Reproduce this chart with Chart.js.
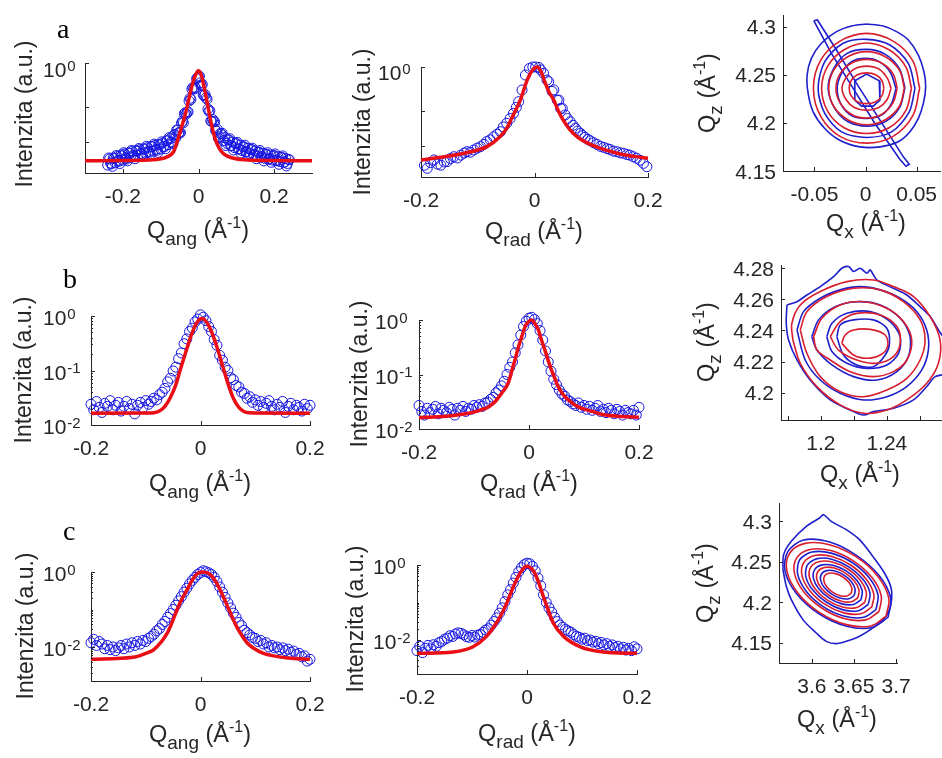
<!DOCTYPE html>
<html>
<head>
<meta charset="utf-8">
<script src="https://cdn.jsdelivr.net/npm/chart.js@4.4.1/dist/chart.umd.min.js"></script>
<style>
  html, body { margin: 0; padding: 0; background: #fff; overflow: hidden; width: 942px; height: 758px; }
  canvas { position: absolute; left: 0; top: 0; }
</style>
</head>
<body>
<canvas id="pa1" width="1000" height="758"></canvas>
<canvas id="pa2" width="1000" height="758"></canvas>
<canvas id="pa3" width="1000" height="758"></canvas>
<canvas id="pb1" width="1000" height="758"></canvas>
<canvas id="pb2" width="1000" height="758"></canvas>
<canvas id="pb3" width="1000" height="758"></canvas>
<canvas id="pc1" width="1000" height="758"></canvas>
<canvas id="pc2" width="1000" height="758"></canvas>
<canvas id="pc3" width="1000" height="758"></canvas>
<script>
// ---------- tick values and labels ----------
const tickQ = [-0.2, 0, 0.2];
const tickQLabels = ['-0.2', '0', '0.2'];
const tickLogA = [1, 0.4, 0.19];
const tickLogAExp = ['0', null, null];
const tickLogB = [1, 0.1, 0.01, 0.9, 0.8, 0.7, 0.6, 0.5, 0.4, 0.3, 0.2, 0.09, 0.08, 0.07, 0.06, 0.05, 0.04, 0.03, 0.02];
const tickLogBExp = ['0', '-1', '-2'];
const tickLogC = [1, 0.01, 0.1, 0.9, 0.8, 0.7, 0.6, 0.5, 0.4, 0.3, 0.2, 0.09, 0.08, 0.07, 0.06, 0.05, 0.04, 0.03, 0.02,
                  0.009, 0.008, 0.007, 0.006, 0.005, 0.004, 0.003, 0.002];
const tickLogCExp = ['0', '-2'];
const tickA3x = [-0.05, 0, 0.05], tickA3xLabels = ['-0.05', '0', '0.05'];
const tickA3y = [4.15, 4.2, 4.25, 4.3], tickA3yLabels = ['4.15', '4.2', '4.25', '4.3'];
const tickB3x = [1.18, 1.2, 1.22, 1.24, 1.26], tickB3xLabels = ['', '1.2', '', '1.24', ''];
const tickB3y = [4.2, 4.22, 4.24, 4.26, 4.28], tickB3yLabels = ['4.2', '4.22', '4.24', '4.26', '4.28'];
const tickC3x = [3.6, 3.65, 3.7], tickC3xLabels = ['3.6', '3.65', '3.7'];
const tickC3y = [4.15, 4.2, 4.25, 4.3], tickC3yLabels = ['4.15', '4.2', '4.25', '4.3'];

// ---------- line profiles (Q in 1/Å, intensity in a.u.) ----------
const qGrid = [-0.2,-0.195,-0.19,-0.185,-0.18,-0.175,-0.17,-0.165,-0.16,-0.155,-0.15,-0.145,-0.14,-0.135,-0.13,-0.125,-0.12,-0.115,-0.11,-0.105,
  -0.1,-0.095,-0.09,-0.085,-0.08,-0.075,-0.07,-0.065,-0.06,-0.055,-0.05,-0.045,-0.04,-0.035,-0.03,-0.025,-0.02,-0.015,-0.01,-0.005,
  0,0.005,0.01,0.015,0.02,0.025,0.03,0.035,0.04,0.045,0.05,0.055,0.06,0.065,0.07,0.075,0.08,0.085,0.09,0.095,
  0.1,0.105,0.11,0.115,0.12,0.125,0.13,0.135,0.14,0.145,0.15,0.155,0.16,0.165,0.17,0.175,0.18,0.185,0.19,0.195,0.2];

// a: angular (two interleaved scans)
const a1Q = [-0.24,-0.235,-0.23,-0.225,-0.22,-0.215,-0.21,-0.205,-0.2,-0.195,-0.19,-0.185,-0.18,-0.175,-0.17,-0.165,-0.16,-0.155,-0.15,-0.145,
  -0.14,-0.135,-0.13,-0.125,-0.12,-0.115,-0.11,-0.105,-0.1,-0.095,-0.09,-0.085,-0.08,-0.075,-0.07,-0.065,-0.06,-0.055,-0.05,-0.045,
  -0.04,-0.035,-0.03,-0.025,-0.02,-0.015,-0.01,-0.005,0,0.005,0.01,0.015,0.02,0.025,0.03,0.035,0.04,0.045,0.05,0.055,
  0.06,0.065,0.07,0.075,0.08,0.085,0.09,0.095,0.1,0.105,0.11,0.115,0.12,0.125,0.13,0.135,0.14,0.145,0.15,0.155,
  0.16,0.165,0.17,0.175,0.18,0.185,0.19,0.195,0.2,0.205,0.21,0.215,0.22,0.225,0.23,0.235,0.24];
const a1Int = [0.118,0.134,0.121,0.137,0.124,0.141,0.128,0.146,0.131,0.149,0.134,0.152,0.138,0.157,0.141,0.160,0.145,0.163,0.148,0.166,
  0.151,0.170,0.154,0.174,0.158,0.178,0.161,0.181,0.165,0.187,0.173,0.196,0.181,0.205,0.190,0.221,0.209,0.245,0.234,0.284,
  0.286,0.352,0.356,0.452,0.466,0.598,0.60,0.72,0.75,0.66,0.64,0.505,0.483,0.381,0.368,0.295,0.294,0.245,0.249,0.214,
  0.226,0.197,0.210,0.186,0.200,0.177,0.191,0.170,0.185,0.165,0.179,0.160,0.173,0.155,0.168,0.150,0.164,0.146,0.159,0.142,
  0.155,0.139,0.151,0.136,0.148,0.133,0.146,0.131,0.144,0.129,0.141,0.127,0.139,0.124,0.136,0.122,0.132];
const a1QB = [-0.2375,-0.2325,-0.2275,-0.2225,-0.2175,-0.2125,-0.2075,-0.2025,-0.1975,-0.1925,-0.1875,-0.1825,-0.1775,-0.1725,-0.1675,-0.1625,
  -0.1575,-0.1525,-0.1475,-0.1425,-0.1375,-0.1325,-0.1275,-0.1225,-0.1175,-0.1125,-0.1075,-0.1025,-0.0975,-0.0925,-0.0875,-0.0825,
  -0.0775,-0.0725,-0.0675,-0.0625,-0.0575,-0.0525,-0.0475,-0.0425,-0.0375,-0.0325,-0.0275,-0.0225,-0.0175,-0.0125,-0.0075,-0.0025,
  0.0025,0.0075,0.0125,0.0175,0.0225,0.0275,0.0325,0.0375,0.0425,0.0475,0.0525,0.0575,0.0625,0.0675,0.0725,0.0775,
  0.0825,0.0875,0.0925,0.0975,0.1025,0.1075,0.1125,0.1175,0.1225,0.1275,0.1325,0.1375,0.1425,0.1475,0.1525,0.1575,
  0.1625,0.1675,0.1725,0.1775,0.1825,0.1875,0.1925,0.1975,0.2025,0.2075,0.2125,0.2175,0.2225,0.2275,0.2325,0.2375];
const a1IntB = [0.137,0.123,0.115,0.135,0.144,0.130,0.122,0.143,0.153,0.137,0.129,0.151,0.160,0.144,0.135,0.158,
  0.167,0.150,0.141,0.165,0.175,0.157,0.148,0.173,0.183,0.164,0.154,0.180,0.192,0.175,0.166,0.197,
  0.210,0.192,0.185,0.224,0.246,0.232,0.232,0.296,0.346,0.343,0.36,0.478,0.578,0.58,0.59,0.73,
  0.76,0.625,0.513,0.515,0.469,0.364,0.297,0.307,0.292,0.24,0.208,0.229,0.23,0.197,0.178,0.200,
  0.205,0.178,0.162,0.185,0.190,0.166,0.152,0.173,0.179,0.157,0.143,0.163,0.168,0.147,0.135,0.154,
  0.160,0.141,0.129,0.148,0.153,0.135,0.125,0.143,0.149,0.131,0.120,0.138,0.143,0.126,0.116,0.133];
const a1FitQ = [-0.3,-0.2,-0.12,-0.09,-0.075,-0.065,-0.055,-0.045,-0.035,-0.025,-0.015,-0.007,0,0.007,0.015,0.025,0.035,0.045,0.055,0.065,0.075,0.09,0.12,0.2,0.3];
const a1Fit = [0.129,0.130,0.132,0.137,0.145,0.158,0.2,0.26,0.34,0.48,0.66,0.79,0.85,0.78,0.6,0.4,0.27,0.2,0.167,0.151,0.143,0.137,0.132,0.130,0.129];

// a: radial
const a2Q = [-0.194,-0.189,-0.183,-0.177,-0.171,-0.165,-0.159,-0.154,-0.148,-0.142,-0.136,-0.13,-0.124,-0.119,-0.113,-0.107,-0.101,-0.095,-0.089,-0.084,
  -0.078,-0.072,-0.066,-0.06,-0.055,-0.049,-0.043,-0.037,-0.032,-0.028,-0.022,-0.016,-0.009,-0.003,0.002,0.008,0.011,0.016,0.022,0.025,
  0.031,0.034,0.04,0.043,0.046,0.049,0.054,0.058,0.063,0.068,0.072,0.076,0.081,0.085,0.089,0.094,0.098,0.104,0.11,0.116,
  0.122,0.128,0.133,0.139,0.145,0.151,0.157,0.163,0.168,0.174,0.18,0.186,0.192,0.198];
const a2Int = [0.128,0.12,0.135,0.143,0.131,0.128,0.137,0.138,0.147,0.153,0.149,0.158,0.165,0.17,0.168,0.176,0.183,0.189,0.198,0.21,
  0.218,0.232,0.245,0.258,0.285,0.308,0.34,0.379,0.43,0.484,0.618,0.846,0.97,1.0,1.0,0.99,0.94,0.877,0.76,0.735,
  0.6,0.62,0.5,0.5,0.42,0.42,0.366,0.34,0.318,0.295,0.277,0.262,0.249,0.238,0.229,0.22,0.214,0.205,0.198,0.19,
  0.186,0.181,0.178,0.172,0.17,0.166,0.164,0.16,0.158,0.153,0.148,0.142,0.133,0.124];
const a2FitQ = [-0.2,-0.15,-0.12,-0.084,-0.06,-0.049,-0.037,-0.025,-0.013,-0.004,0.005,0.012,0.017,0.025,0.034,0.041,0.049,0.063,0.077,0.092,0.107,0.122,0.151,0.175,0.2];
const a2Fit = [0.143,0.155,0.166,0.189,0.235,0.277,0.37,0.5,0.76,0.93,1.0,0.9,0.76,0.6,0.5,0.41,0.34,0.267,0.228,0.205,0.19,0.178,0.162,0.154,0.148];

// b: angular / radial
const b1Int = [0.024,0.019,0.027,0.021,0.017,0.025,0.022,0.028,0.019,0.023,0.026,0.018,0.022,0.027,0.020,0.024,0.016,0.023,0.026,0.021,
  0.028,0.024,0.027,0.031,0.029,0.036,0.040,0.047,0.062,0.072,0.098,0.115,0.165,0.21,0.31,0.38,0.52,0.60,0.78,0.88,
  1.05,0.95,0.82,0.64,0.52,0.37,0.29,0.19,0.155,0.115,0.1,0.074,0.068,0.053,0.05,0.04,0.038,0.031,0.033,0.026,
  0.029,0.023,0.027,0.021,0.025,0.028,0.022,0.019,0.024,0.021,0.027,0.017,0.022,0.025,0.019,0.023,0.021,0.018,0.024,0.020,0.023];
const b1FitQ = [-0.2,-0.1,-0.085,-0.075,-0.065,-0.055,-0.045,-0.035,-0.025,-0.015,-0.005,0.003,0.01,0.02,0.03,0.04,0.05,0.06,0.07,0.08,0.09,0.1,0.2];
const b1Fit = [0.0165,0.0166,0.0168,0.018,0.022,0.032,0.055,0.12,0.25,0.5,0.8,0.9,0.8,0.52,0.27,0.125,0.058,0.031,0.021,0.0175,0.0167,0.0166,0.0165];

const b2Int = [0.027,0.021,0.018,0.024,0.020,0.023,0.026,0.019,0.024,0.022,0.020,0.025,0.023,0.018,0.024,0.022,0.026,0.021,0.024,0.023,
  0.027,0.025,0.028,0.026,0.030,0.031,0.035,0.038,0.046,0.052,0.062,0.075,0.10,0.135,0.17,0.25,0.35,0.53,0.76,0.95,
  1.08,1.12,1.02,0.86,0.64,0.43,0.27,0.17,0.115,0.082,0.065,0.052,0.044,0.040,0.034,0.032,0.029,0.027,0.030,0.025,
  0.027,0.023,0.026,0.022,0.024,0.027,0.021,0.023,0.020,0.024,0.022,0.019,0.023,0.021,0.018,0.022,0.020,0.019,0.022,0.018,0.025];
const b2FitQ = [-0.2,-0.15,-0.11,-0.09,-0.073,-0.06,-0.05,-0.038,-0.03,-0.0255,-0.02,-0.0133,-0.006,-0.001,0.005,0.011,0.017,0.023,0.029,0.035,
  0.041,0.047,0.053,0.062,0.072,0.085,0.096,0.115,0.139,0.17,0.2];
const b2Fit = [0.0162,0.0172,0.0194,0.022,0.0257,0.033,0.045,0.069,0.13,0.185,0.3,0.49,0.8,0.93,1.0,0.85,0.66,0.42,0.28,0.18,
  0.12,0.085,0.06,0.043,0.034,0.027,0.024,0.021,0.018,0.017,0.0164];

// c: angular / radial
const c1Int = [0.013,0.016,0.011,0.014,0.012,0.009,0.011,0.0085,0.010,0.008,0.0095,0.011,0.009,0.012,0.010,0.013,0.011,0.014,0.012,0.015,
  0.014,0.017,0.019,0.022,0.027,0.031,0.040,0.048,0.062,0.078,0.10,0.13,0.17,0.22,0.29,0.37,0.48,0.60,0.72,0.86,
  0.97,1.08,1.02,0.95,0.86,0.72,0.56,0.40,0.29,0.21,0.15,0.11,0.08,0.062,0.045,0.037,0.028,0.024,0.021,0.018,
  0.017,0.014,0.015,0.012,0.013,0.010,0.011,0.0095,0.010,0.0085,0.0095,0.008,0.0088,0.0072,0.0078,0.0063,0.0068,0.0055,0.0058,0.0042,0.0047];
const c1FitQ = [-0.2,-0.123,-0.1,-0.086,-0.073,-0.061,-0.052,-0.043,-0.034,-0.025,-0.016,-0.007,0.005,0.018,0.027,0.036,0.045,0.055,0.064,0.073,
  0.085,0.097,0.115,0.134,0.16,0.2];
const c1Fit = [0.0047,0.0053,0.0068,0.0083,0.013,0.023,0.045,0.097,0.19,0.33,0.58,0.88,1.0,0.85,0.58,0.33,0.17,0.079,0.04,0.023,
  0.013,0.0093,0.0068,0.0058,0.0051,0.0047];

const c2Int = [0.0052,0.0068,0.0046,0.0060,0.0072,0.0058,0.0075,0.0068,0.0085,0.0092,0.0105,0.0112,0.0130,0.0124,0.0145,0.0155,0.0150,0.0138,0.0123,0.0118,
  0.0132,0.0120,0.0135,0.0140,0.0160,0.0185,0.0200,0.025,0.031,0.039,0.052,0.072,0.105,0.16,0.22,0.33,0.47,0.66,0.85,1.02,
  1.12,1.08,0.92,0.70,0.45,0.28,0.16,0.10,0.072,0.055,0.040,0.031,0.025,0.022,0.019,0.0175,0.0160,0.0140,0.0125,0.0118,
  0.0105,0.0112,0.0096,0.0100,0.0088,0.0092,0.0080,0.0086,0.0074,0.0080,0.0068,0.0074,0.0063,0.0068,0.0058,0.0064,0.0054,0.0060,0.0052,0.0066,0.0058];
const c2FitQ = [-0.2,-0.134,-0.098,-0.074,-0.056,-0.046,-0.037,-0.025,-0.013,-0.004,0.001,0.006,0.0115,0.018,0.024,0.03,0.036,0.048,0.067,0.097,0.139,0.2];
const c2Fit = [0.0044,0.0048,0.0066,0.0123,0.028,0.05,0.095,0.26,0.6,0.88,0.92,0.85,0.7,0.45,0.26,0.14,0.08,0.028,0.0123,0.0066,0.0048,0.0044];

// ---------- reciprocal space maps: iso-intensity contours [Qx, Qz] ----------
const a3Outer = [[0.001,4.3028],[0.0173,4.3007],[0.0304,4.2948],[0.0419,4.2861],[0.0517,4.2705],[0.0572,4.2532],[0.0589,4.2375],[0.0566,4.2202],
  [0.0517,4.2046],[0.0435,4.1907],[0.032,4.1803],[0.0141,4.1751],[-0.0056,4.1751],[-0.0252,4.182],[-0.0399,4.1942],[-0.0513,4.2115],
  [-0.0562,4.2306],[-0.0572,4.2497],[-0.053,4.267],[-0.0432,4.2827],[-0.0284,4.2948],[-0.0137,4.3007]];
const a3Streak = [[-0.0507,4.3062],[-0.0471,4.3069],[-0.0284,4.2757],[-0.0088,4.241],[0.0141,4.2028],[0.037,4.1647],[0.0428,4.157],
  [0.0396,4.155],[0.0337,4.1619],[0.0092,4.1994],[-0.0121,4.2358],[-0.0334,4.2722]];
const a3Blue2 = [[0.0484,4.2358],[0.0419,4.2618],[0.0239,4.2809],[0.001,4.2868],[-0.0219,4.2827],[-0.0399,4.2636],[-0.0464,4.2358],[-0.0399,4.2098],
  [-0.0235,4.1907],[0.001,4.1848],[0.0255,4.1907],[0.0428,4.2115]];
const a3Blue3 = [[0.0386,4.2368],[0.033,4.2566],[0.019,4.2715],[0.001,4.2764],[-0.018,4.2722],[-0.0311,4.2566],[-0.0366,4.2358],[-0.0301,4.215],
  [-0.017,4.2011],[0.0026,4.1966],[0.0206,4.2021],[0.0337,4.2167]];
const a3Blue4 = [[0.0298,4.2358],[0.0245,4.2521],[0.0134,4.2636],[0.0003,4.267],[-0.0137,4.2636],[-0.0235,4.2514],[-0.0278,4.2348],[-0.0235,4.2185],
  [-0.0128,4.207],[0.0016,4.2046],[0.0157,4.208],[0.0255,4.2202]];
const a3Core = [[-0.0105,4.2237],[-0.0105,4.2438],[0.001,4.2507],[0.0134,4.2438],[0.0141,4.2237],[0.0075,4.2174],[-0.0039,4.2174]];
const a3Red1 = [[0.053,4.236],[0.046,4.265],[0.027,4.285],[0.001,4.293],[-0.025,4.285],[-0.044,4.265],[-0.051,4.236],[-0.044,4.207],[-0.025,4.186],[0.001,4.179],[0.027,4.186],[0.046,4.207]];
const a3Red2 = [[0.045,4.236],[0.039,4.259],[0.023,4.276],[0.001,4.283],[-0.021,4.276],[-0.037,4.259],[-0.043,4.236],[-0.037,4.212],[-0.021,4.195],[0.001,4.189],[0.023,4.195],[0.039,4.212]];
const a3Red3 = [[0.038,4.236],[0.033,4.255],[0.019,4.269],[0.001,4.274],[-0.017,4.269],[-0.031,4.255],[-0.036,4.236],[-0.031,4.217],[-0.017,4.203],[0.001,4.198],[0.019,4.203],[0.033,4.217]];
const a3Red4 = [[0.031,4.236],[0.027,4.251],[0.016,4.262],[0.001,4.266],[-0.014,4.262],[-0.025,4.251],[-0.029,4.236],[-0.025,4.221],[-0.014,4.209],[0.001,4.205],[0.016,4.209],[0.027,4.221]];
const a3Red5 = [[0.025,4.236],[0.021,4.247],[0.013,4.256],[0.001,4.259],[-0.011,4.256],[-0.019,4.247],[-0.023,4.236],[-0.019,4.224],[-0.011,4.216],[0.001,4.213],[0.013,4.216],[0.021,4.224]];
const a3Red6 = [[0.018,4.236],[0.016,4.244],[0.010,4.250],[0.001,4.252],[-0.008,4.250],[-0.014,4.244],[-0.016,4.236],[-0.014,4.228],[-0.008,4.222],[0.001,4.220],[0.010,4.222],[0.016,4.228]];

const b3Outer = [[1.1794,4.2564],[1.1855,4.2585],[1.1915,4.2628],[1.1996,4.2682],[1.2077,4.2746],[1.2127,4.2800],[1.2168,4.2811],[1.2198,4.2779],
  [1.2238,4.2800],[1.2279,4.2768],[1.2299,4.2789],[1.2339,4.2725],[1.2440,4.2671],[1.2521,4.2628],[1.2602,4.2553],[1.2663,4.2489],
  [1.2713,4.2403],[1.2764,4.2317],[1.2784,4.2189],[1.2764,4.2124],[1.2693,4.2103],[1.2642,4.2039],[1.2562,4.1953],[1.2440,4.1899],
  [1.2319,4.1878],[1.2259,4.1856],[1.2178,4.1888],[1.2057,4.1953],[1.1935,4.2081],[1.1855,4.2210],[1.1804,4.2339],[1.1790,4.2446]];
const b3Blue2 = [[1.1855,4.2403],[1.1895,4.2521],[1.1996,4.2607],[1.2117,4.2661],[1.2238,4.2682],[1.2360,4.2661],[1.2481,4.2607],[1.2582,4.2521],
  [1.2642,4.2403],[1.2652,4.2274],[1.2612,4.2146],[1.2521,4.2039],[1.2400,4.1974],[1.2259,4.1953],[1.2117,4.1996],[1.1996,4.2081],[1.1905,4.2210]];
const b3Blue3 = [[1.1945,4.2360],[1.1986,4.2468],[1.2087,4.2553],[1.2218,4.2585],[1.2360,4.2564],[1.2481,4.2478],[1.2541,4.2360],[1.2531,4.2232],
  [1.2461,4.2135],[1.2339,4.2081],[1.2198,4.2103],[1.2067,4.2178],[1.1976,4.2274]];
const b3Blue4 = [[1.2036,4.2360],[1.2067,4.2446],[1.2158,4.2510],[1.2299,4.2521],[1.2420,4.2457],[1.2481,4.2360],[1.2471,4.2253],[1.2400,4.2178],
  [1.2279,4.2156],[1.2158,4.2189],[1.2067,4.2264]];
const b3Blue5 = [[1.2097,4.2360],[1.2117,4.2435],[1.2198,4.2468],[1.2319,4.2468],[1.2400,4.2414],[1.2416,4.2317],[1.2390,4.2242],[1.2319,4.2167],
  [1.2218,4.2178],[1.2137,4.2242]];
const b3Red1 = [[1.1830,4.2339],[1.1824,4.2446],[1.1875,4.2564],[1.1996,4.2650],[1.2158,4.2714],[1.2319,4.2725],[1.2440,4.2682],[1.2562,4.2618],
  [1.2663,4.2489],[1.2723,4.2339],[1.2713,4.2189],[1.2642,4.2060],[1.2521,4.1953],[1.2400,4.1888],[1.2259,4.1867],[1.2117,4.1921],[1.1976,4.2039],[1.1875,4.2189]];
const b3Red2 = [[1.1875,4.2403],[1.1915,4.2521],[1.2036,4.2618],[1.2198,4.2671],[1.2360,4.2661],[1.2501,4.2585],[1.2602,4.2468],[1.2632,4.2339],
  [1.2602,4.2210],[1.2521,4.2092],[1.2400,4.2017],[1.2259,4.1974],[1.2117,4.2006],[1.1996,4.2103],[1.1915,4.2253]];
const b3Red3 = [[1.1956,4.2360],[1.2006,4.2478],[1.2117,4.2564],[1.2259,4.2585],[1.2400,4.2543],[1.2501,4.2457],[1.2551,4.2339],[1.2521,4.2210],
  [1.2440,4.2135],[1.2319,4.2103],[1.2178,4.2135],[1.2057,4.2210],[1.1976,4.2274]];
const b3Red4 = [[1.2057,4.2360],[1.2117,4.2457],[1.2218,4.2510],[1.2360,4.2500],[1.2461,4.2425],[1.2481,4.2317],[1.2440,4.2232],[1.2339,4.2189],
  [1.2218,4.2210],[1.2107,4.2274]];
const b3Red5 = [[1.2127,4.2317],[1.2147,4.2371],[1.2198,4.2403],[1.2299,4.2407],[1.2390,4.2371],[1.2404,4.2296],[1.2360,4.2242],[1.2279,4.2221],[1.2198,4.2242]];

const c3Outer = [[3.5656,4.2404],[3.5664,4.2589],[3.5755,4.2753],[3.5933,4.2938],[3.6091,4.3041],[3.6138,4.3082],[3.6229,4.3000],[3.6407,4.2897],
  [3.6565,4.2774],[3.6723,4.2568],[3.6861,4.2363],[3.6940,4.2178],[3.6940,4.1993],[3.6881,4.1829],[3.6723,4.1685],[3.6565,4.1582],
  [3.6407,4.1520],[3.6288,4.1492],[3.6170,4.1520],[3.6051,4.1623],[3.5893,4.1788],[3.5755,4.2034],[3.5696,4.2199]];
const c3Blue2 = [[3.6904,4.1815],[3.6712,4.1690],[3.6413,4.1706],[3.6084,4.1860],[3.5816,4.2110],[3.5680,4.2389],[3.5712,4.2623],[3.5900,4.2770],
  [3.6210,4.2745],[3.6532,4.2578],[3.6800,4.2328],[3.6936,4.2049]];
const c3Blue3 = [[3.6761,4.1912],[3.6615,4.1817],[3.6388,4.1830],[3.6138,4.1946],[3.5934,4.2136],[3.5831,4.2348],[3.5855,4.2526],[3.6001,4.2621],
  [3.6228,4.2608],[3.6478,4.2492],[3.6682,4.2302],[3.6785,4.2090]];
const c3Blue4 = [[3.6669,4.1975],[3.6552,4.1898],[3.6372,4.1908],[3.6173,4.2002],[3.6010,4.2153],[3.5927,4.2322],[3.5947,4.2463],[3.6064,4.2540],
  [3.6244,4.2530],[3.6443,4.2436],[3.6606,4.2285],[3.6689,4.2116]];
const c3Blue5 = [[3.6583,4.2033],[3.6494,4.1975],[3.6356,4.1982],[3.6205,4.2053],[3.6081,4.2169],[3.6018,4.2297],[3.6033,4.2405],[3.6122,4.2463],
  [3.6260,4.2456],[3.6411,4.2385],[3.6535,4.2269],[3.6598,4.2141]];
const c3Blue6 = [[3.6503,4.2087],[3.6440,4.2046],[3.6342,4.2051],[3.6235,4.2102],[3.6147,4.2183],[3.6103,4.2274],[3.6113,4.2351],[3.6176,4.2392],
  [3.6274,4.2387],[3.6381,4.2336],[3.6469,4.2255],[3.6513,4.2164]];
const c3Red1 = [[3.6881,4.1831],[3.6696,4.1710],[3.6409,4.1726],[3.6093,4.1874],[3.5835,4.2114],[3.5704,4.2382],[3.5735,4.2607],[3.5920,4.2728],
  [3.6207,4.2712],[3.6523,4.2564],[3.6781,4.2324],[3.6912,4.2056]];
const c3Red2 = [[3.6797,4.1888],[3.6639,4.1785],[3.6394,4.1798],[3.6125,4.1925],[3.5905,4.2129],[3.5793,4.2358],[3.5819,4.2550],[3.5977,4.2653],
  [3.6222,4.2640],[3.6491,4.2513],[3.6711,4.2309],[3.6823,4.2080]];
const c3Red3 = [[3.6712,4.1945],[3.6582,4.1860],[3.6379,4.1871],[3.6156,4.1976],[3.5975,4.2145],[3.5882,4.2334],[3.5904,4.2493],[3.6034,4.2578],
  [3.6237,4.2567],[3.6460,4.2462],[3.6641,4.2293],[3.6734,4.2104]];
const c3Red4 = [[3.6629,4.2002],[3.6525,4.1934],[3.6365,4.1943],[3.6188,4.2026],[3.6043,4.2160],[3.5970,4.2310],[3.5987,4.2436],[3.6091,4.2504],
  [3.6251,4.2495],[3.6428,4.2412],[3.6573,4.2278],[3.6646,4.2128]];
const c3Red5 = [[3.6546,4.2058],[3.6469,4.2008],[3.6350,4.2014],[3.6219,4.2076],[3.6112,4.2175],[3.6057,4.2287],[3.6070,4.2380],[3.6147,4.2430],
  [3.6266,4.2424],[3.6397,4.2362],[3.6504,4.2263],[3.6559,4.2151]];
const c3Red6 = [[3.6466,4.2112],[3.6415,4.2079],[3.6336,4.2083],[3.6249,4.2124],[3.6178,4.2190],[3.6142,4.2264],[3.6150,4.2326],[3.6201,4.2359],
  [3.6280,4.2355],[3.6367,4.2314],[3.6438,4.2248],[3.6474,4.2174]];

// ---------- styling ----------
const SANS = '"Liberation Sans", Arial, Helvetica, sans-serif';
const SERIF = '"Liberation Serif", "Times New Roman", serif';
const INK = '#262626';
const FIT_RED = 'rgb(232,14,20)';
const PT_BLUE = 'rgb(22,22,225)';
const CT_BLUE = 'rgb(30,30,205)';
const CT_RED = 'rgb(216,30,46)';
const W = 1000, H = 758;

const xy = (xs, ys) => xs.map((x, i) => ({ x, y: ys[i] }));
const loop = pts => pts.concat([pts[0]]).map(p => ({ x: p[0], y: p[1] }));

const fitSet = (xs, ys) => ({ data: xy(xs, ys), showLine: true, pointRadius: 0, borderColor: FIT_RED, borderWidth: 3.5,
  cubicInterpolationMode: 'monotone', order: 0, clip: false });
const dotSet = (xs, ys) => ({ data: xy(xs, ys), showLine: false, pointRadius: 5, pointStyle: 'circle', pointBorderColor: PT_BLUE,
  pointBackgroundColor: 'rgba(0,0,0,0)', pointBorderWidth: 1, order: 1, clip: false });
const contourSet = (pts, color, tension) => ({ data: loop(pts), showLine: true, pointRadius: 0, borderColor: color, borderWidth: 1.6,
  tension: tension, order: color === CT_RED ? 0 : 1, clip: false });

const qTitle = sub => [{ t: 'Q', s: 23.5 }, { t: sub, s: 19, dy: 7 }, { t: ' (Å', s: 23.5 }, { t: '-1', s: 16, dy: -10 }, { t: ')', s: 23.5 }];
const INT_TITLE = [{ t: 'Intenzita (a.u.)', s: 23 }];

function partsWidth(ctx, parts) {
  let w = 0;
  parts.forEach(p => { ctx.font = p.s + 'px ' + SANS; w += ctx.measureText(p.t).width; });
  return w;
}
function drawParts(ctx, parts, x, y) {
  parts.forEach(p => { ctx.font = p.s + 'px ' + SANS; ctx.fillText(p.t, x, y + (p.dy || 0)); x += ctx.measureText(p.t).width; });
}

// inward ticks, tick labels, axis titles and panel letters
const panelDeco = {
  id: 'panelDeco',
  afterDraw(chart, args, o) {
    const ctx = chart.ctx, area = chart.chartArea, xs = chart.scales.x, ys = chart.scales.y;
    ctx.save();
    ctx.strokeStyle = INK; ctx.fillStyle = INK; ctx.lineWidth = 1;
    ctx.beginPath();
    xs.ticks.forEach(t => {
      const p = Math.round(xs.getPixelForValue(t.value)) + 0.5;
      ctx.moveTo(p, area.bottom); ctx.lineTo(p, area.bottom - 4);
    });
    ys.ticks.forEach((t, i) => {
      const p = Math.round(ys.getPixelForValue(t.value)) + 0.5;
      const len = i < o.yLabels.length ? 4 : 2;
      ctx.moveTo(area.left, p); ctx.lineTo(area.left + len, p);
    });
    ctx.stroke();
    ctx.textBaseline = 'alphabetic';
    ctx.textAlign = 'center';
    ctx.font = '21px ' + SANS;
    xs.ticks.forEach((t, i) => {
      const s = o.xLabels[i];
      if (s) ctx.fillText(s, xs.getPixelForValue(t.value), area.bottom + 29.5);
    });
    ctx.textAlign = 'left';
    ys.ticks.forEach((t, i) => {
      const s = o.yLabels[i];
      if (s === undefined || s === null || s === '') return;
      const p = ys.getPixelForValue(t.value);
      if (o.log) {
        ctx.font = '21px ' + SANS;
        ctx.fillText('10', o.tenX, p + o.tenDy);
        const w = ctx.measureText('10').width;
        ctx.font = '15px ' + SANS;
        ctx.fillText(s, o.tenX + w + 1, p + o.tenDy - 6.5);
      } else {
        ctx.font = '21px ' + SANS;
        const w = ctx.measureText(s).width;
        ctx.fillText(s, area.left - 7 - w, p + 7.5);
      }
    });
    // x title
    const xw = partsWidth(ctx, o.xTitle.parts);
    drawParts(ctx, o.xTitle.parts, o.xTitle.cx - xw / 2, o.xTitle.y);
    // y title (rotated)
    const yw = partsWidth(ctx, o.yTitle.parts);
    ctx.save();
    ctx.translate(o.yTitle.x, o.yTitle.cy);
    ctx.rotate(-Math.PI / 2);
    drawParts(ctx, o.yTitle.parts, -yw / 2, 0);
    ctx.restore();
    if (o.letter) {
      ctx.fillStyle = '#000';
      ctx.font = '28px ' + SERIF;
      ctx.fillText(o.letter.t, o.letter.x, o.letter.y);
    }
    ctx.restore();
  }
};

function makePanel(id, box, xr, yr, yType, datasets, deco) {
  const axis = (range, type, tickVals) => ({
    type: type, min: range[0], max: range[1],
    grid: { display: false, drawTicks: false },
    border: { display: true, color: INK, width: 1 },
    ticks: { display: false },
    afterBuildTicks: s => { s.ticks = tickVals.map(v => ({ value: v })); },
    afterFit: s => { if (s.isHorizontal()) { s.height = 0; } else { s.width = 0; } }
  });
  return new Chart(document.getElementById(id), {
    type: 'scatter',
    data: { datasets: datasets },
    options: {
      responsive: false, animation: false, events: [],
      layout: { autoPadding: false, padding: { left: box[0], top: box[1], right: W - box[2], bottom: H - box[3] } },
      plugins: { legend: { display: false }, tooltip: { enabled: false }, panelDeco: deco },
      scales: { x: axis(xr, 'linear', deco.xTicks), y: axis(yr, yType, deco.yTicks) }
    },
    plugins: [panelDeco]
  });
}

// ---------- row a ----------
makePanel('pa1', [85, 63, 312, 173], [-0.3, 0.3], [0.1, 1], 'logarithmic',
  [fitSet(a1FitQ, a1Fit), dotSet(a1Q, a1Int), dotSet(a1QB, a1IntB)],
  { xTicks: tickQ, xLabels: tickQLabels, yTicks: tickLogA, yLabels: tickLogAExp, log: true, tenX: 43, tenDy: 14,
    xTitle: { parts: qTitle('ang'), cx: 198, y: 238 }, yTitle: { parts: INT_TITLE, x: 32, cy: 114 },
    letter: { t: 'a', x: 57, y: 38 } });

makePanel('pa2', [421, 67, 648, 177], [-0.2, 0.2], [0.1, 1], 'logarithmic',
  [fitSet(a2FitQ, a2Fit), dotSet(a2Q, a2Int)],
  { xTicks: tickQ, xLabels: tickQLabels, yTicks: tickLogA, yLabels: tickLogAExp, log: true, tenX: 378, tenDy: 13,
    xTitle: { parts: qTitle('rad'), cx: 534, y: 239 }, yTitle: { parts: INT_TITLE, x: 370, cy: 122 } });

makePanel('pa3', [783, 15, 940, 171], [-0.0808, 0.0729], [4.15, 4.3121], 'linear',
  [a3Outer, a3Blue2, a3Blue3, a3Blue4].map(c => contourSet(c, CT_BLUE, 0.3))
    .concat([contourSet(a3Streak, CT_BLUE, 0), contourSet(a3Core, CT_BLUE, 0)])
    .concat([a3Red1, a3Red2, a3Red3, a3Red4, a3Red5, a3Red6].map(c => contourSet(c, CT_RED, 0.4))),
  { xTicks: tickA3x, xLabels: tickA3xLabels, yTicks: tickA3y, yLabels: tickA3yLabels, log: false,
    xTitle: { parts: qTitle('x'), cx: 866, y: 231 }, yTitle: { parts: qTitle('z'), x: 715, cy: 93 } });

// ---------- row b ----------
makePanel('pb1', [91, 316, 310, 425], [-0.2, 0.2], [0.01, 1], 'logarithmic',
  [fitSet(b1FitQ, b1Fit), dotSet(qGrid, b1Int)],
  { xTicks: tickQ, xLabels: tickQLabels, yTicks: tickLogB, yLabels: tickLogBExp, log: true, tenX: 43, tenDy: 9,
    xTitle: { parts: qTitle('ang'), cx: 200, y: 491 }, yTitle: { parts: INT_TITLE, x: 31, cy: 370 },
    letter: { t: 'b', x: 63, y: 288 } });

makePanel('pb2', [419, 320, 639, 429], [-0.2, 0.2], [0.01, 1], 'logarithmic',
  [fitSet(b2FitQ, b2Fit), dotSet(qGrid, b2Int)],
  { xTicks: tickQ, xLabels: tickQLabels, yTicks: tickLogB, yLabels: tickLogBExp, log: true, tenX: 375, tenDy: 9,
    xTitle: { parts: qTitle('rad'), cx: 529, y: 491 }, yTitle: { parts: INT_TITLE, x: 367, cy: 374 } });

makePanel('pb3', [781, 265, 961, 420], [1.1758, 1.285], [4.1824, 4.2821], 'linear',
  [b3Outer, b3Blue2, b3Blue3, b3Blue4, b3Blue5].map(c => contourSet(c, CT_BLUE, 0.3))
    .concat([b3Red1, b3Red2, b3Red3, b3Red4, b3Red5].map(c => contourSet(c, CT_RED, 0.35))),
  { xTicks: tickB3x, xLabels: tickB3xLabels, yTicks: tickB3y, yLabels: tickB3yLabels, log: false,
    xTitle: { parts: qTitle('x'), cx: 860, y: 482 }, yTitle: { parts: qTitle('z'), x: 714, cy: 342 } });

// ---------- row c ----------
makePanel('pc1', [91, 572, 310, 681], [-0.2, 0.2], [0.00124, 1], 'logarithmic',
  [fitSet(c1FitQ, c1Fit), dotSet(qGrid, c1Int)],
  { xTicks: tickQ, xLabels: tickQLabels, yTicks: tickLogC, yLabels: tickLogCExp, log: true, tenX: 43, tenDy: 9,
    xTitle: { parts: qTitle('ang'), cx: 200, y: 742 }, yTitle: { parts: INT_TITLE, x: 33, cy: 626 },
    letter: { t: 'c', x: 63, y: 540 } });

makePanel('pc2', [417, 565, 637, 674], [-0.2, 0.2], [0.00124, 1], 'logarithmic',
  [fitSet(c2FitQ, c2Fit), dotSet(qGrid, c2Int)],
  { xTicks: tickQ, xLabels: tickQLabels, yTicks: tickLogC, yLabels: tickLogCExp, log: true, tenX: 373, tenDy: 9,
    xTitle: { parts: qTitle('rad'), cx: 527, y: 741 }, yTitle: { parts: INT_TITLE, x: 363, cy: 619 } });

makePanel('pc3', [779, 503, 897, 663], [3.5609, 3.701], [4.1253, 4.3226], 'linear',
  [c3Outer, c3Blue2, c3Blue3, c3Blue4, c3Blue5, c3Blue6].map(c => contourSet(c, CT_BLUE, 0.3))
    .concat([c3Red1, c3Red2, c3Red3, c3Red4, c3Red5, c3Red6].map(c => contourSet(c, CT_RED, 0.4))),
  { xTicks: tickC3x, xLabels: tickC3xLabels, yTicks: tickC3y, yLabels: tickC3yLabels, log: false,
    xTitle: { parts: qTitle('x'), cx: 837, y: 727 }, yTitle: { parts: qTitle('z'), x: 713, cy: 583 } });
</script>
</body>
</html>
